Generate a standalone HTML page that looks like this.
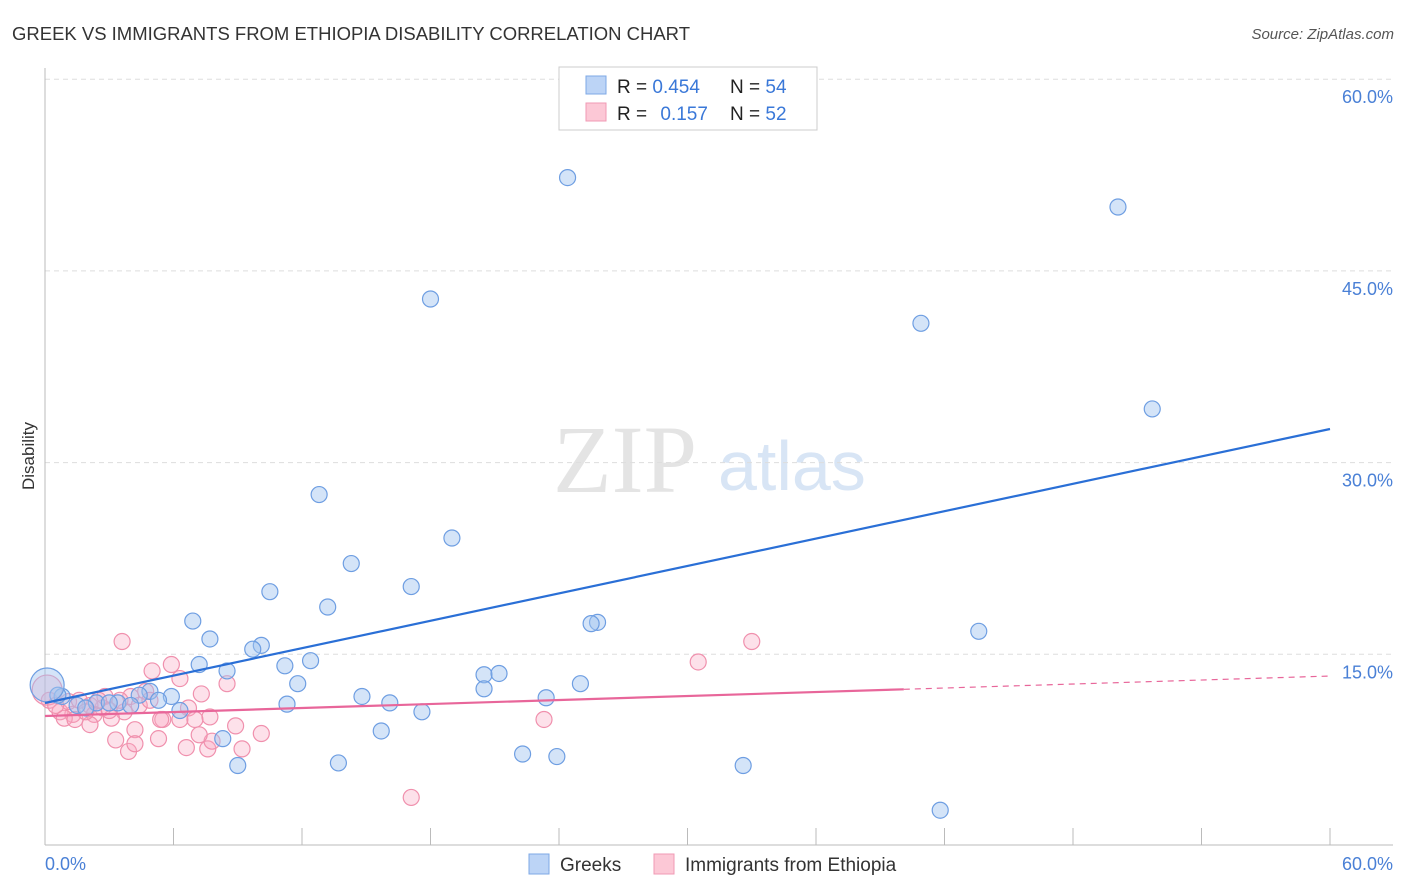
<!DOCTYPE html>
<html><head><meta charset="utf-8"><style>
html,body{margin:0;padding:0;background:#fff;}
svg{display:block;font-family:"Liberation Sans",sans-serif;}
</style></head><body>
<svg id="chart" width="1406" height="892" viewBox="0 0 1406 892">
<text x="12" y="40" font-size="18" fill="#333" textLength="678" lengthAdjust="spacingAndGlyphs">GREEK VS IMMIGRANTS FROM ETHIOPIA DISABILITY CORRELATION CHART</text>
<text x="1394" y="39" font-size="15" fill="#555" font-style="italic" text-anchor="end">Source: ZipAtlas.com</text>
<g>
<text x="553" y="492" font-family="Liberation Serif,serif" font-size="96" fill="#e4e4e4">ZIP</text>
<text x="718" y="490" font-size="70" fill="#d8e5f5">atlas</text>
</g>
<g id="grid"></g>
<g id="axes"></g>
<g id="marks"></g>
<text transform="translate(34,456) rotate(-90)" font-size="17" fill="#333" text-anchor="middle">Disability</text>
<g>
<rect x="559" y="67" width="258" height="63" fill="#fff" stroke="#ccc"/>
<rect x="586" y="76" width="20" height="18" fill="#bcd4f6" stroke="#7ea8e6"/>
<rect x="586" y="103" width="20" height="18" fill="#fcc8d6" stroke="#f09ab4"/>
<text x="617" y="93" font-size="19" fill="#222">R = <tspan fill="#3a78d8">0.454</tspan></text>
<text x="730" y="93" font-size="19" fill="#222">N = <tspan fill="#3a78d8">54</tspan></text>
<text x="617" y="120" font-size="19" fill="#222">R = <tspan fill="#3a78d8" dx="8">0.157</tspan></text>
<text x="730" y="120" font-size="19" fill="#222">N = <tspan fill="#3a78d8">52</tspan></text>
</g>
<g>
<rect x="529" y="854" width="20" height="20" fill="#bcd4f6" stroke="#7ea8e6"/>
<text x="560" y="871" font-size="19" fill="#333">Greeks</text>
<rect x="654" y="854" width="20" height="20" fill="#fcc8d6" stroke="#f09ab4"/>
<text x="685" y="871" font-size="19" fill="#333">Immigrants from Ethiopia</text>
</g>
</svg>
<script>
const yTicks=[15,30,45,60];
const yTickLabels=["15.0%","30.0%","45.0%","60.0%"];
const xTickCount=10;
const blueX=[24.4,50.1,18.0,40.9,51.7,12.8,19.0,14.3,17.1,10.5,13.2,6.9,25.8,25.5,43.6,7.7,10.1,9.7,7.2,11.2,12.4,8.5,20.5,21.2,11.8,25.0,20.5,14.8,23.4,16.1,11.3,17.6,4.9,4.4,5.9,5.3,3.4,4.0,2.4,1.5,0.8,0.6,0.1,6.3,15.7,8.3,9.0,13.7,22.3,23.9,32.6,41.8,3.0,1.9];
const blueY=[52.3,50.0,42.8,40.9,34.2,27.5,24.1,22.1,20.3,19.9,18.7,17.6,17.5,17.4,16.8,16.2,15.7,15.4,14.2,14.1,14.5,13.7,13.4,13.5,12.7,12.7,12.3,11.7,11.6,11.2,11.1,10.5,12.1,11.8,11.7,11.4,11.2,11.0,11.2,11.0,11.7,11.8,12.6,10.6,9.0,8.4,6.3,6.5,7.2,7.0,6.3,2.8,11.2,10.8];
const blueR=[8,8,8,8,8,8,8,8,8,8,8,8,8,8,8,8,8,8,8,8,8,8,8,8,8,8,8,8,8,8,8,8,8,8,8,8,8,8,8,8,8,8,17,8,8,8,8,8,8,8,8,8,8,8];
const pinkX=[3.6,33.0,30.5,5.9,5.0,6.3,8.5,7.3,4.7,6.7,7.7,5.5,6.3,8.9,3.7,2.7,2.1,1.3,0.7,0.2,0.1,2.3,3.1,4.2,3.3,3.9,4.2,5.3,6.6,7.6,7.8,9.2,10.1,23.3,17.1,1.1,1.6,2.8,4.0,4.4,4.9,7.2,2.1,0.9,0.5,1.4,3.5,5.4,7.0,3.0,1.9,2.5];
const pinkY=[16.0,16.0,14.4,14.2,13.7,13.1,12.7,11.9,12.1,10.8,10.1,9.9,9.9,9.4,10.5,10.8,11.0,10.3,10.5,11.4,12.2,10.3,10.0,9.1,8.3,7.4,8.0,8.4,7.7,7.6,8.2,7.6,8.8,9.9,3.8,11.3,11.4,11.7,11.7,11.0,11.4,8.7,9.5,10.0,11.0,9.9,11.4,9.9,9.9,10.6,10.5,11.4];
const pinkR=[8,8,8,8,8,8,8,8,8,8,8,8,8,8,8,8,8,8,8,8,15,8,8,8,8,8,8,8,8,8,8,8,8,8,8,8,8,8,8,8,8,8,8,8,8,8,8,8,8,8,8,8];
const blueTrend=[11.19,32.63];
const pinkTrend=[10.17,13.3];
const pinkSolidEnd=40.1;

const NS="http://www.w3.org/2000/svg";
const X0=45,X1=1330,Y0=846,YPER=191.7/15;
const sx=v=>X0+(X1-X0)*v/60;
const sy=v=>Y0-v*YPER;
function mk(tag,attrs,parent){const e=document.createElementNS(NS,tag);for(const k in attrs)e.setAttribute(k,attrs[k]);parent.appendChild(e);return e;}
const grid=document.getElementById('grid'),axes=document.getElementById('axes'),marks=document.getElementById('marks');
yTicks.forEach((t,i)=>{
  const l=mk('line',{x1:45,x2:1393,y1:sy(t),y2:sy(t),stroke:'#ddd','stroke-dasharray':'5,4'},grid);
  
  
  const tx=mk('text',{x:1393,y:sy(t)+24,'font-size':18,fill:'#4a80d6','text-anchor':'end'},axes);
  tx.textContent=yTickLabels[i];
  
  
});
const la=mk('line',{x1:45,x2:45,y1:68,y2:845,stroke:'#bbb'},axes);


const ba=mk('line',{x1:45,x2:1393,y1:845,y2:845,stroke:'#bbb'},axes);


for(let i=0;i<=xTickCount;i++){
  const x=sx(60*i/xTickCount);
  const t=mk('line',{x1:x,x2:x,y1:828,y2:845,stroke:'#bbb'},axes);
  
  
}
const xl=mk('text',{x:45,y:870,'font-size':18,fill:'#4a80d6'},axes);xl.textContent='0.0%';


const xr=mk('text',{x:1393,y:870,'font-size':18,fill:'#4a80d6','text-anchor':'end'},axes);xr.textContent='60.0%';



pinkX.forEach((v,i)=>{
  const c=mk('circle',{cx:sx(v),cy:sy(pinkY[i]),r:pinkR[i],fill:'rgba(248,170,195,0.35)',stroke:'#f090ad','stroke-width':1.2},marks);
  
  
});
blueX.forEach((v,i)=>{
  const c=mk('circle',{cx:sx(v),cy:sy(blueY[i]),r:blueR[i],fill:'rgba(160,196,240,0.45)',stroke:'#6e9ee2','stroke-width':1.2},marks);
  
  
});
const bt=mk('line',{x1:sx(0),y1:sy(blueTrend[0]),x2:sx(60),y2:sy(blueTrend[1]),stroke:'#2a6fd6','stroke-width':2.2},marks);


const pf=v=>pinkTrend[0]+(pinkTrend[1]-pinkTrend[0])*v/60;
const pt=mk('line',{x1:sx(0),y1:sy(pf(0)),x2:sx(pinkSolidEnd),y2:sy(pf(pinkSolidEnd)),stroke:'#e8669a','stroke-width':2.2},marks);


const pd=mk('line',{x1:sx(pinkSolidEnd),y1:sy(pf(pinkSolidEnd)),x2:sx(60),y2:sy(pf(60)),stroke:'#e8669a','stroke-width':1.2,'stroke-dasharray':'6,5'},marks);


</script>
</body></html>
